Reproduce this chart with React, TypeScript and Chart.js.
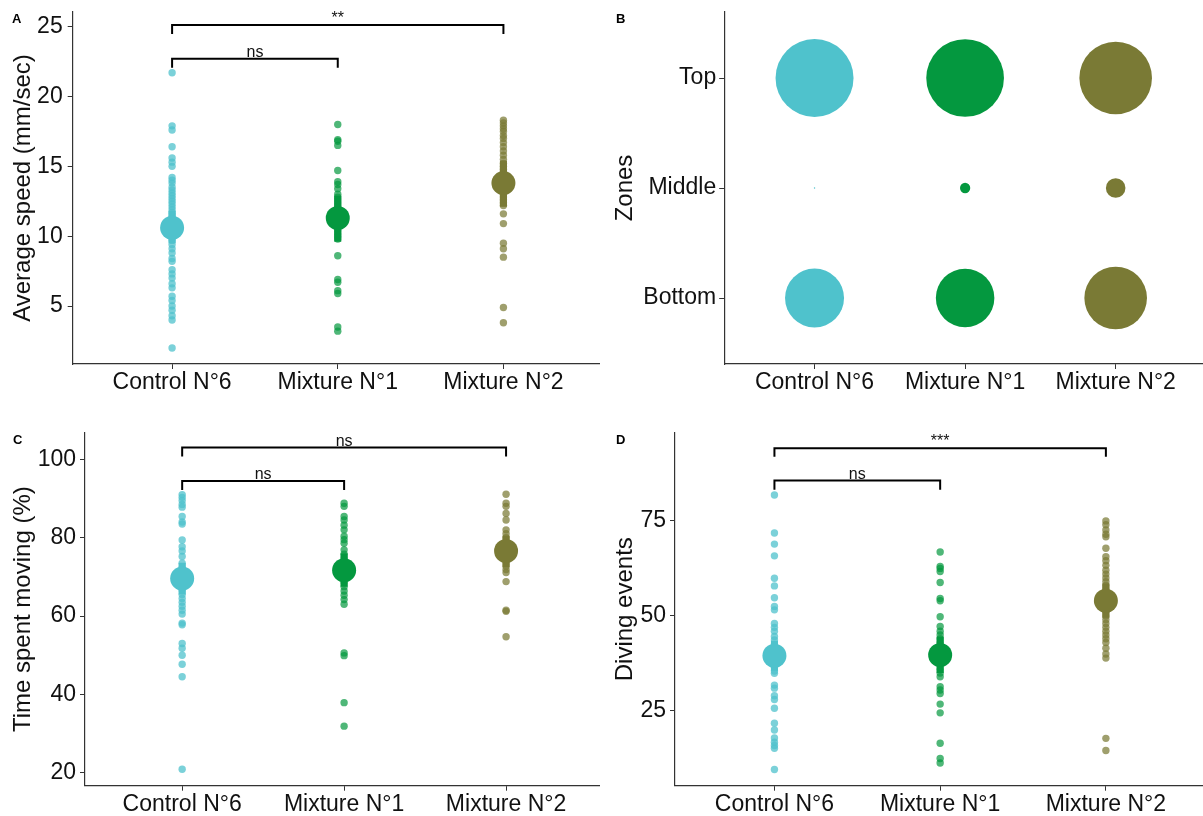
import React, { useEffect, useRef } from "react";
import { Chart, registerables } from "chart.js";
Chart.register(...registerables);
Chart.defaults.font.family = "'Liberation Sans', Arial, Helvetica, sans-serif";

// ---------- shared categories ----------
const groups = ["Control N°6", "Mixture N°1", "Mixture N°2"];
const groupColors = ["#4FC2CC", "#04983F", "#7A7A35"];
const pointColors = ["rgba(79,194,204,0.75)", "rgba(4,152,63,0.7)", "rgba(122,122,53,0.72)"];

// ---------- Panel A : average speed ----------
const speedControl = [21.7, 17.9, 17.6, 16.4, 15.6, 15.3, 15.0, 14.2, 14.0, 13.8, 13.5, 13.3, 13.1, 12.9, 12.7, 12.5, 12.3, 12.1, 11.9, 11.7, 11.5, 11.3, 11.1, 10.9, 10.7, 10.5, 10.3, 10.1, 9.9, 9.7, 9.4, 9.1, 8.8, 8.4, 8.2, 7.6, 7.3, 7.0, 6.6, 6.3, 5.7, 5.4, 5.0, 4.7, 4.3, 4.0, 2.0];
const speedMix1 = [18.0, 16.9, 16.8, 16.5, 14.7, 13.9, 13.7, 13.4, 13.0, 12.8, 12.6, 12.4, 12.2, 12.0, 11.8, 11.6, 11.4, 11.2, 11.0, 10.8, 10.6, 10.4, 10.2, 10.0, 9.8, 8.6, 6.9, 6.7, 6.1, 5.9, 3.5, 3.2];
const speedMix2 = [18.3, 18.1, 17.9, 17.7, 17.5, 17.2, 17.0, 16.7, 16.4, 16.1, 15.8, 15.5, 15.2, 15.0, 14.8, 14.6, 14.4, 14.2, 14.0, 13.8, 13.6, 13.4, 13.2, 13.0, 12.8, 12.6, 12.4, 12.2, 11.6, 10.9, 9.5, 9.1, 8.5, 4.9, 3.8];
const speedMeans = [10.6, 11.3, 13.8];
const speedLow = [9.5, 9.6, 12.1];
const speedHigh = [11.8, 12.9, 15.4];
const speedTicks = [5, 10, 15, 20, 25];
const speedBracketFrom = [0, 0];
const speedBracketTo = [1, 2];
const speedBracketY = [22.7, 25.12];
const speedBracketTip = [22.05, 24.48];
const speedBracketLabels = ["ns", "**"];

// ---------- Panel B : zones ----------
const zoneLabels = ["Bottom", "Middle", "Top"];
const zoneBottom = [36.4, 35.8, 41.0];
const zoneMiddle = [0.02, 1.1, 4.0];
const zoneTop = [63.6, 63.1, 55.1];

// ---------- Panel C : time spent moving ----------
const movingControl = [91.0, 90.3, 89.5, 88.5, 87.8, 85.4, 84.0, 83.5, 79.4, 77.7, 76.6, 75.2, 73.5, 72.5, 71.5, 70.5, 69.5, 68.5, 67.5, 66.5, 65.5, 64.5, 63.5, 62.5, 61.5, 60.5, 58.2, 57.8, 53.0, 51.8, 50.0, 47.7, 44.5, 20.9];
const movingMix1 = [88.8, 88.0, 85.4, 84.5, 83.2, 82.0, 80.4, 79.5, 78.6, 76.9, 75.8, 74.8, 73.7, 72.6, 71.5, 70.5, 69.5, 68.5, 67.5, 66.4, 65.3, 64.2, 63.0, 50.6, 49.9, 37.9, 31.9];
const movingMix2 = [91.1, 88.8, 88.0, 86.2, 84.5, 82.0, 81.0, 80.0, 79.0, 78.0, 77.2, 76.4, 75.5, 74.6, 73.7, 72.8, 71.9, 71.1, 68.8, 61.5, 61.2, 54.7];
const movingMeans = [69.6, 71.7, 76.6];
const movingLow = [65.5, 67.5, 72.5];
const movingHigh = [73.6, 76.0, 80.5];
const movingTicks = [20, 40, 60, 80, 100];
const movingBracketFrom = [0, 0];
const movingBracketTo = [1, 2];
const movingBracketY = [94.5, 103.0];
const movingBracketTip = [92.2, 100.7];
const movingBracketLabels = ["ns", "ns"];

// ---------- Panel D : diving events ----------
const divingControl = [81.8, 71.8, 68.9, 65.8, 59.9, 57.9, 54.8, 52.5, 51.6, 48.0, 47.0, 46.0, 44.6, 43.7, 42.5, 41.4, 40.5, 39.5, 38.5, 37.5, 36.5, 35.5, 34.9, 31.8, 31.0, 29.0, 28.0, 25.7, 21.8, 20.0, 17.9, 16.8, 15.9, 15.2, 9.6];
const divingMix1 = [66.8, 63.0, 62.5, 61.7, 58.8, 54.6, 54.0, 49.8, 47.2, 46.0, 45.0, 44.0, 43.0, 42.0, 41.0, 40.0, 39.0, 38.0, 37.0, 36.0, 35.0, 34.0, 31.4, 30.5, 29.6, 26.8, 24.5, 16.5, 12.5, 11.3];
const divingMix2 = [75.0, 74.0, 72.6, 71.5, 70.8, 67.8, 65.6, 64.5, 63.3, 62.0, 61.0, 60.0, 59.0, 58.0, 57.0, 56.0, 55.0, 54.0, 53.0, 52.0, 51.0, 50.0, 49.0, 48.0, 47.0, 46.0, 45.0, 44.0, 43.0, 41.5, 40.0, 38.9, 17.8, 14.6];
const divingMeans = [39.5, 39.7, 54.0];
const divingLow = [35.5, 35.0, 49.5];
const divingHigh = [43.5, 44.5, 58.5];
const divingTicks = [25, 50, 75];
const divingBracketFrom = [0, 0];
const divingBracketTo = [1, 2];
const divingBracketY = [85.6, 94.1];
const divingBracketTip = [83.2, 91.9];
const divingBracketLabels = ["ns", "***"];

// ---------- styling ----------
const TICK_FONT = 23;
const TITLE_FONT = 24;
const INK = "#111111";
const AXIS = "#333333";

type Area = { left: number; top: number; right: number; bottom: number };
type Layout = { x: number; y: number; w: number; h: number; area: Area; xMin: number; xMax: number; titlePad: number; tickPad: number };

function xScale(L: Layout) {
  return {
    type: "linear",
    min: L.xMin,
    max: L.xMax,
    afterBuildTicks: (s: any) => { s.ticks = groups.map((_, i) => ({ value: i })); },
    afterFit: (s: any) => { s.height = L.h - L.area.bottom; s.paddingLeft = 0; s.paddingRight = 0; },
    ticks: { callback: (v: any) => groups[Math.round(v)], autoSkip: false, maxRotation: 0, minRotation: 0, font: { size: TICK_FONT }, color: INK, padding: 0 },
    grid: { drawOnChartArea: false, drawTicks: true, tickLength: 5, color: AXIS, lineWidth: 1 },
    border: { display: true, color: AXIS, width: 1.2 },
  };
}

function yScale(L: Layout, min: number, max: number, ticks: number[], labels: string[] | null, title: string) {
  return {
    type: "linear",
    min,
    max,
    afterBuildTicks: (s: any) => { s.ticks = ticks.map((v) => ({ value: v })); },
    afterFit: (s: any) => { s.width = L.area.left; s.paddingTop = 0; s.paddingBottom = 0; },
    ticks: { callback: (v: any) => (labels ? labels[Math.round(v)] : String(v)), font: { size: TICK_FONT }, color: INK, padding: L.tickPad },
    grid: { drawOnChartArea: false, drawTicks: true, tickLength: 5, color: AXIS, lineWidth: 1 },
    border: { display: true, color: AXIS, width: 1.2 },
    title: { display: true, text: title, font: { size: TITLE_FONT }, color: INK, padding: { top: L.titlePad, bottom: 0 } },
  };
}

function bracketPlugin(from: number[], to: number[], ys: number[], tips: number[], labels: string[]) {
  return {
    id: "brackets",
    afterDatasetsDraw(chart: any) {
      const { ctx, scales } = chart;
      const xs = scales.x, yS = scales.y;
      ctx.save();
      ctx.strokeStyle = "#000";
      ctx.lineWidth = 2;
      ctx.fillStyle = INK;
      ctx.font = "16px 'Liberation Sans', Arial, sans-serif";
      ctx.textAlign = "center";
      ctx.textBaseline = "alphabetic";
      for (let i = 0; i < from.length; i++) {
        const x1 = xs.getPixelForValue(from[i]);
        const x2 = xs.getPixelForValue(to[i]);
        const y = yS.getPixelForValue(ys[i]);
        const yt = yS.getPixelForValue(tips[i]);
        ctx.beginPath();
        ctx.moveTo(x1, yt);
        ctx.lineTo(x1, y);
        ctx.lineTo(x2, y);
        ctx.lineTo(x2, yt);
        ctx.stroke();
        ctx.fillText(labels[i], (x1 + x2) / 2, y - 2);
      }
      ctx.restore();
    },
  };
}

function baseOptions(L: Layout, yOpts: any) {
  return {
    responsive: false,
    animation: false,
    events: [],
    layout: { autoPadding: false, padding: { top: L.area.top, right: L.w - L.area.right, left: 0, bottom: 0 } },
    plugins: { legend: { display: false }, tooltip: { enabled: false } },
    scales: { x: xScale(L), y: yOpts },
  };
}

function stripConfig(L: Layout, values: number[][], means: number[], low: number[], high: number[], yMin: number, yMax: number, ticks: number[], title: string, br: any) {
  const datasets: any[] = [];
  values.forEach((vals, g) => {
    datasets.push({ type: "scatter", data: vals.map((v) => ({ x: g, y: v })), backgroundColor: pointColors[g], borderWidth: 0, pointRadius: 3.7, pointHoverRadius: 3.7, order: 3 });
  });
  groups.forEach((_, g) => {
    datasets.push({ type: "line", data: [{ x: g, y: low[g] }, { x: g, y: high[g] }], borderColor: groupColors[g], borderWidth: 7, borderCapStyle: "butt", pointRadius: 0, fill: false, order: 2 });
  });
  datasets.push({ type: "scatter", data: means.map((m, g) => ({ x: g, y: m })), backgroundColor: groupColors, borderWidth: 0, pointRadius: 12, pointHoverRadius: 12, order: 1 });
  return {
    type: "scatter",
    data: { datasets },
    options: baseOptions(L, yScale(L, yMin, yMax, ticks, null, title)),
    plugins: [br],
  };
}

function bubbleConfig(L: Layout) {
  const k = 4.89; // px per sqrt(percent)
  const zoneValues = [zoneBottom, zoneMiddle, zoneTop];
  const datasets = groups.map((_, g) => ({
    type: "bubble",
    data: zoneValues.map((vals, z) => ({ x: g, y: z, r: k * Math.sqrt(vals[g]) })),
    backgroundColor: groupColors[g],
    borderWidth: 0,
    hoverBorderWidth: 0,
  }));
  return {
    type: "bubble",
    data: { datasets },
    options: baseOptions(L, yScale(L, -0.6, 2.6, [0, 1, 2], zoneLabels, "Zones")),
  };
}

const layoutA: Layout = { x: 0, y: 0, w: 600, h: 405, area: { left: 72.7, top: 12, right: 600, bottom: 364 }, xMin: -0.6, xMax: 2.583, titlePad: 8.6, tickPad: 5 };
const layoutB: Layout = { x: 600, y: 0, w: 603, h: 405, area: { left: 124.2, top: 12, right: 603, bottom: 364 }, xMin: -0.6, xMax: 2.58, titlePad: 10.5, tickPad: 3 };
const layoutC: Layout = { x: 0, y: 410, w: 600, h: 406, area: { left: 85, top: 22.7, right: 600, bottom: 375.7 }, xMin: -0.6, xMax: 2.58, titlePad: 8.6, tickPad: 4 };
const layoutD: Layout = { x: 600, y: 410, w: 603, h: 406, area: { left: 75, top: 22.7, right: 603, bottom: 375.7 }, xMin: -0.6, xMax: 2.586, titlePad: 10.5, tickPad: 4 };

function Panel({ L, make }: { L: Layout; make: () => any }) {
  const ref = useRef<HTMLCanvasElement | null>(null);
  useEffect(() => {
    if (!ref.current) return;
    const chart = new Chart(ref.current, make());
    return () => chart.destroy();
  }, []);
  return (
    <canvas
      ref={ref}
      width={L.w}
      height={L.h}
      style={{ position: "absolute", left: L.x, top: L.y, width: L.w, height: L.h }}
    />
  );
}

const letterStyle: React.CSSProperties = {
  position: "absolute",
  fontFamily: "'Liberation Sans', Arial, sans-serif",
  fontWeight: "bold",
  fontSize: 13,
  color: "#000",
  lineHeight: "13px",
};

export default function App() {
  return (
    <div style={{ position: "absolute", left: 0, top: 0, width: 1203, height: 816, background: "#fff", overflow: "hidden" }}>
      <Panel
        L={layoutA}
        make={() =>
          stripConfig(layoutA, [speedControl, speedMix1, speedMix2], speedMeans, speedLow, speedHigh, 0.85, 26.05, speedTicks, "Average speed (mm/sec)",
            bracketPlugin(speedBracketFrom, speedBracketTo, speedBracketY, speedBracketTip, speedBracketLabels))
        }
      />
      <Panel L={layoutB} make={() => bubbleConfig(layoutB)} />
      <Panel
        L={layoutC}
        make={() =>
          stripConfig(layoutC, [movingControl, movingMix1, movingMix2], movingMeans, movingLow, movingHigh, 16.7, 106.8, movingTicks, "Time spent moving (%)",
            bracketPlugin(movingBracketFrom, movingBracketTo, movingBracketY, movingBracketTip, movingBracketLabels))
        }
      />
      <Panel
        L={layoutD}
        make={() =>
          stripConfig(layoutD, [divingControl, divingMix1, divingMix2], divingMeans, divingLow, divingHigh, 5.34, 98.2, divingTicks, "Diving events",
            bracketPlugin(divingBracketFrom, divingBracketTo, divingBracketY, divingBracketTip, divingBracketLabels))
        }
      />
      <div style={{ ...letterStyle, left: 12, top: 12 }}>A</div>
      <div style={{ ...letterStyle, left: 616, top: 12 }}>B</div>
      <div style={{ ...letterStyle, left: 13, top: 433 }}>C</div>
      <div style={{ ...letterStyle, left: 616, top: 433 }}>D</div>
    </div>
  );
}
